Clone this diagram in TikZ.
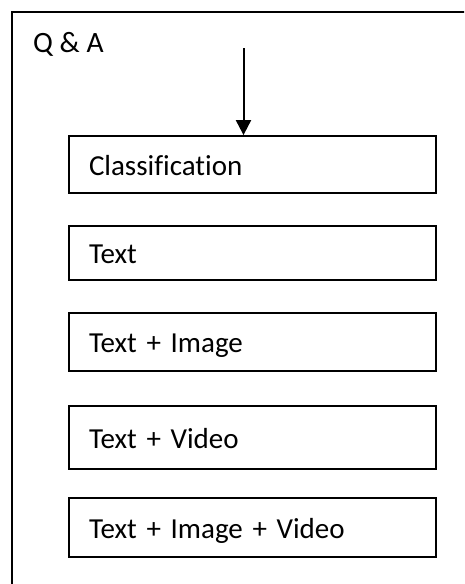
\documentclass[tikz,border=0pt]{standalone}
\usepackage{fontspec}
\setmainfont{Carlito}[Ligatures={NoCommon}]
\usetikzlibrary{arrows.meta}
\begin{document}
\begin{tikzpicture}[x=1pt,y=-1pt,
  catbox/.style={draw=black,line width=1.8pt,minimum width=367pt,text width=327pt,inner xsep=20pt,align=left,font=\fontsize{29}{34}\selectfont,text height=27pt,text depth=6pt},
  frame/.style={draw=black,line width=2pt},
  arr/.style={line width=2pt,-{Triangle[length=15pt,width=15pt]}}]
\useasboundingbox (0,0) rectangle (464,584);
\clip (0,0) rectangle (464,584);
\fill[white] (0,0) rectangle (464,584);
\draw[frame] (12,12) rectangle (480,600);
\node[anchor=base west,inner sep=0pt,font=\fontsize{29.5}{34}\selectfont] (qa) at (33,52) {Q \& A};
\node[catbox,minimum height=57pt] (c) at (252.5,164.5) {Classification};
\node[catbox,minimum height=54pt] (t1) at (252.5,253) {Text};
\node[catbox,minimum height=58pt] (t2) at (252.5,342) {Text + Image};
\node[catbox,minimum height=63pt] (t3) at (252.5,437.5) {Text + Video};
\node[catbox,minimum height=59pt] (t4) at (252.5,527.5) {Text + Image + Video};
\coordinate (s) at (243.5,48);
\draw[arr] (s) -- (s |- c.north);
\end{tikzpicture}
\end{document}
